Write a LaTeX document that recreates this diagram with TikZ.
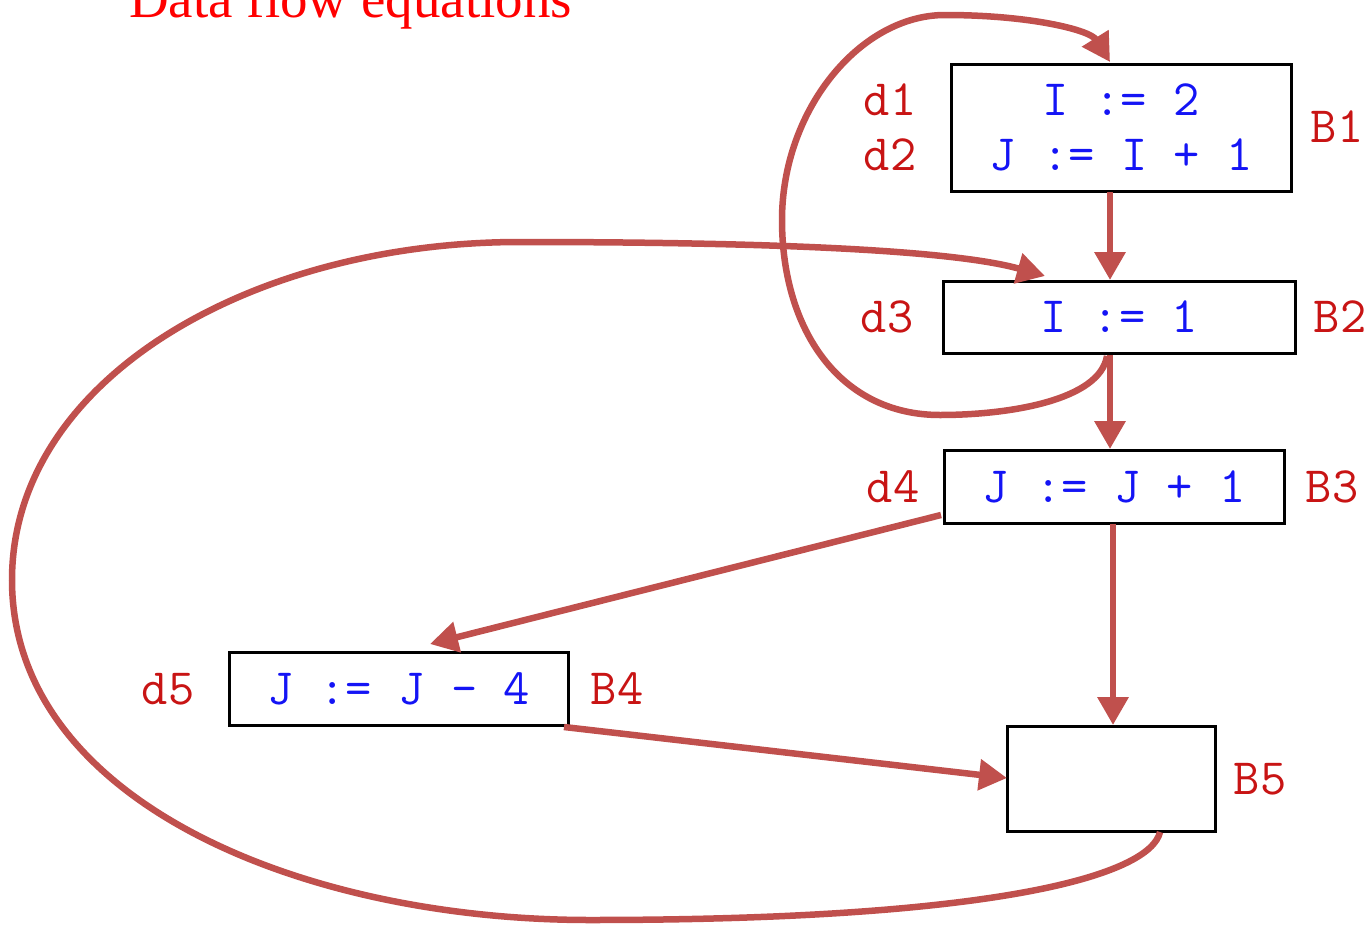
\documentclass[tikz,border=0pt]{standalone}
\usepackage{fontspec}
\setmainfont{Liberation Serif}
\usetikzlibrary{arrows.meta}
\definecolor{arrowred}{RGB}{192,80,77}
\definecolor{labred}{RGB}{200,20,20}
\definecolor{codeblue}{RGB}{20,20,245}
\definecolor{titlered}{RGB}{255,0,0}
\tikzset{
  blockbox/.style={draw=black, line width=3pt, inner sep=0pt, font=\fontsize{51}{55}\selectfont\ttfamily, text=codeblue, align=center},
  lab/.style={font=\fontsize{51}{55}\selectfont\ttfamily, text=labred, inner sep=0pt},
  flow/.style={draw=arrowred, line width=6.5pt, -{Triangle[length=28pt,width=30pt]}},
}
\begin{document}
\begin{tikzpicture}[x=1pt,y=-1pt]
\useasboundingbox (0,0) rectangle (1366,926);
\node[anchor=base west, font=\fontsize{55}{60}\selectfont, text=titlered, inner sep=0pt] (title) at (129,17) {Data flow equations};

\node[blockbox, minimum width=340pt, minimum height=127pt] (b1) at (1121,127.5) {I := 2\\J := I + 1};
\node[blockbox, minimum width=352pt, minimum height=72pt] (b2) at (1119,317) {I := 1};
\node[blockbox, minimum width=340pt, minimum height=73pt] (b3) at (1114,486.5) {J := J + 1};
\node[blockbox, minimum width=339pt, minimum height=73pt] (b4) at (398.5,688.5) {J := J - 4};
\node[blockbox, minimum width=208pt, minimum height=105pt] (b5) at (1111,778.5) {};

\node[lab] (d1) at (890,100) {d1};
\node[lab] (d2) at (890,155) {d2};
\node[lab] (lb1) at (1337,127) {B1};
\node[lab] (d3) at (887,317) {d3};
\node[lab] (lb2) at (1340,317) {B2};
\node[lab] (d4) at (893,487) {d4};
\node[lab] (lb3) at (1332,487) {B3};
\node[lab] (d5) at (168,689) {d5};
\node[lab] (lb4) at (617,689) {B4};
\node[lab] (lb5) at (1260,779) {B5};

\coordinate (b1out) at (1110,192);
\coordinate (b1in) at (1110,62);
\coordinate (b2in) at (1110,280);
\coordinate (b2inl) at (1045,276);
\coordinate (b2out) at (1110,355);
\coordinate (b2loop) at (1107,356);
\coordinate (b3in) at (1110,449);
\coordinate (b3out) at (1113,524);
\coordinate (b3outl) at (941,515);
\coordinate (b4in) at (430,644);
\coordinate (b4out) at (564,727);
\coordinate (b5in) at (1113,725);
\coordinate (b5inl) at (1007,778);
\coordinate (b5out) at (1160,832);

\path[flow] (b1out) -- (b2in);
\path[flow] (b2out) -- (b3in);
\path[flow] (b3out) -- (b5in);
\path[flow] (b3outl) -- (b4in);
\path[flow] (b4out) -- (b5inl);
\path[flow] (b2loop) .. controls (1100,400) and (1010,415) .. (940,415)
  .. controls (840,415) and (782,330) .. (782,220)
  .. controls (782,110) and (860,15) .. (945,15)
  .. controls (1030,15) and (1090,30) .. (b1in);
\path[flow] (b5out) .. controls (1150,875) and (1000,920) .. (590,920)
  .. controls (300,920) and (12,800) .. (12,580)
  .. controls (12,380) and (250,242) .. (520,242)
  .. controls (800,242) and (960,252) .. (b2inl);
\end{tikzpicture}
\end{document}
